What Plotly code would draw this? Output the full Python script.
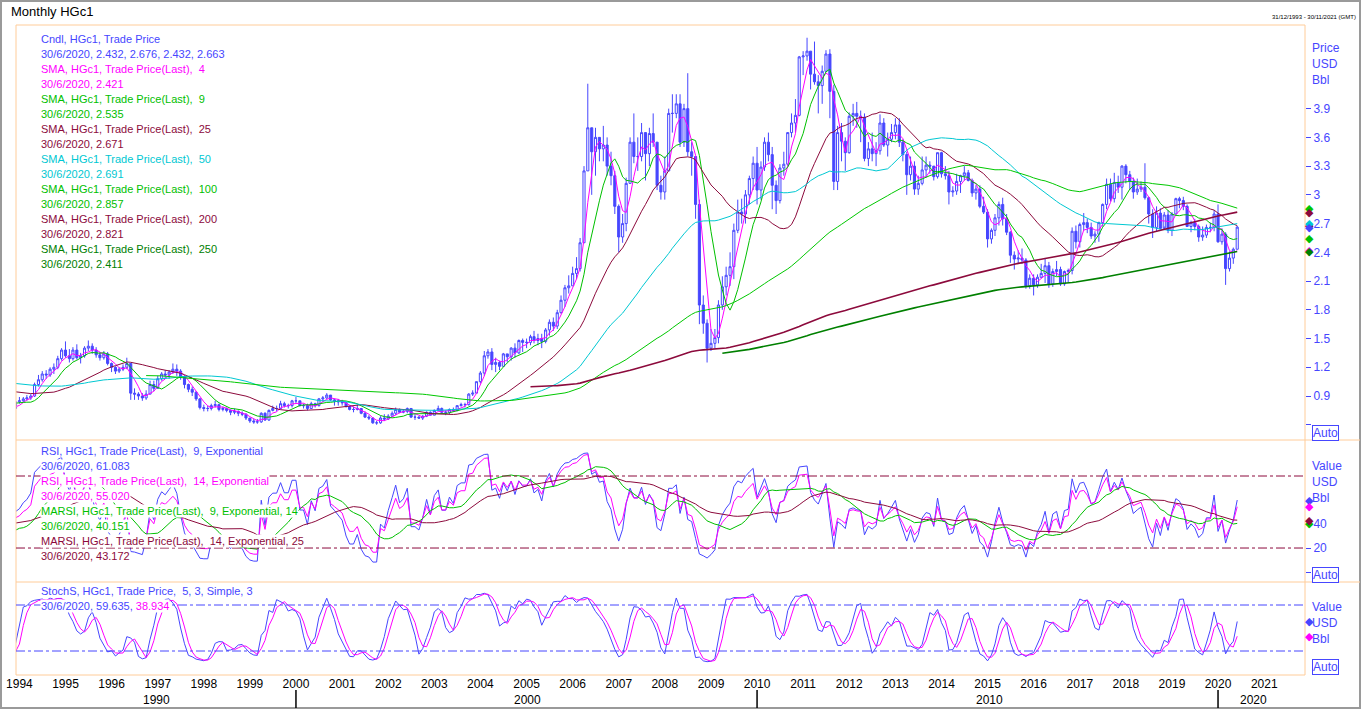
import pandas as pd
import plotly.graph_objects as go

# ---- HGc1 monthly data (USD / lb) ----
first_month = "1988-07-01"

# closes before the visible window, only used to warm up the long averages
pre_close = [
    0.97, 1.05, 1.20, 1.30, 1.45, 1.50,                                   # 1988 Jul-Dec
    1.45, 1.40, 1.35, 1.30, 1.15, 1.12, 1.25, 1.35, 1.30, 1.20, 1.12, 1.07,  # 1989
    1.06, 1.10, 1.25, 1.20, 1.22, 1.15, 1.30, 1.28, 1.30, 1.22, 1.10, 1.08,  # 1990
    1.06, 1.10, 1.08, 1.05, 0.98, 0.98, 1.02, 1.02, 1.07, 1.10, 1.04, 0.98,  # 1991
    0.98, 1.00, 1.00, 0.99, 1.01, 1.08, 1.12, 1.10, 1.04, 0.99, 0.97, 1.03,  # 1992
    1.00, 0.93, 0.95, 0.85, 0.80, 0.86, 0.90, 0.87, 0.79, 0.75, 0.77,        # 1993 Jan-Nov
]

# visible candles Dec 1993 .. Jun 2020 (open = previous close)
close = [
    0.84,
    0.85, 0.87, 0.88, 0.90, 1.02, 1.07, 1.13, 1.12, 1.18, 1.20, 1.29, 1.38,  # 1994
    1.32, 1.29, 1.38, 1.30, 1.32, 1.40, 1.42, 1.38, 1.33, 1.30, 1.34, 1.24,  # 1995
    1.20, 1.16, 1.18, 1.20, 1.24, 0.93, 0.92, 0.90, 0.88, 0.92, 1.02, 0.98,  # 1996
    1.08, 1.13, 1.12, 1.15, 1.18, 1.16, 1.10, 1.02, 0.97, 0.94, 0.87, 0.78,  # 1997
    0.77, 0.77, 0.80, 0.81, 0.76, 0.77, 0.75, 0.73, 0.74, 0.72, 0.71, 0.67,  # 1998
    0.64, 0.63, 0.63, 0.72, 0.65, 0.75, 0.77, 0.77, 0.82, 0.80, 0.80, 0.85,  # 1999
    0.85, 0.80, 0.80, 0.77, 0.82, 0.80, 0.87, 0.88, 0.91, 0.86, 0.85, 0.84,  # 2000
    0.83, 0.79, 0.76, 0.76, 0.77, 0.72, 0.68, 0.67, 0.62, 0.62, 0.67, 0.66,  # 2001
    0.69, 0.72, 0.76, 0.73, 0.74, 0.77, 0.68, 0.68, 0.67, 0.69, 0.73, 0.70,  # 2002
    0.75, 0.77, 0.73, 0.73, 0.76, 0.75, 0.80, 0.81, 0.81, 0.92, 0.93, 1.05,  # 2003
    1.14, 1.32, 1.36, 1.23, 1.25, 1.21, 1.34, 1.31, 1.40, 1.35, 1.48, 1.46,  # 2004
    1.46, 1.52, 1.48, 1.50, 1.47, 1.59, 1.67, 1.63, 1.77, 1.90, 2.03, 2.05,  # 2005
    2.18, 2.23, 2.50, 3.25, 3.70, 3.45, 3.60, 3.48, 3.52, 3.30, 3.20, 2.88,  # 2006
    2.56, 2.70, 3.12, 3.55, 3.40, 3.40, 3.65, 3.43, 3.64, 3.55, 3.10, 3.03,  # 2007
    3.25, 3.85, 3.85, 3.95, 3.55, 3.90, 3.45, 3.40, 2.90, 1.85, 1.66, 1.40,  # 2008
    1.45, 1.51, 1.85, 2.04, 2.16, 2.25, 2.63, 2.82, 2.80, 3.00, 3.17, 3.33,  # 2009
    3.05, 3.29, 3.55, 3.42, 3.10, 2.94, 3.28, 3.32, 3.65, 3.75, 3.83, 4.44,  # 2010
    4.45, 4.50, 4.26, 4.18, 4.14, 4.29, 4.47, 4.08, 3.14, 3.65, 3.56, 3.44,  # 2011
    3.82, 3.85, 3.82, 3.81, 3.38, 3.48, 3.43, 3.46, 3.75, 3.52, 3.58, 3.65,  # 2012
    3.73, 3.55, 3.42, 3.21, 3.30, 3.06, 3.12, 3.26, 3.31, 3.30, 3.19, 3.44,  # 2013
    3.22, 3.20, 3.03, 3.04, 3.14, 3.20, 3.23, 3.15, 3.02, 3.06, 2.88, 2.82,  # 2014
    2.54, 2.63, 2.76, 2.90, 2.75, 2.61, 2.37, 2.33, 2.34, 2.32, 2.05, 2.13,  # 2015
    2.06, 2.14, 2.18, 2.26, 2.07, 2.20, 2.22, 2.07, 2.20, 2.21, 2.62, 2.51,  # 2016
    2.69, 2.71, 2.66, 2.57, 2.59, 2.71, 2.90, 3.11, 2.96, 3.13, 3.08, 3.30,  # 2017
    3.21, 3.14, 3.03, 3.06, 3.08, 2.97, 2.80, 2.66, 2.81, 2.65, 2.79, 2.63,  # 2018
    2.80, 2.96, 2.94, 2.88, 2.67, 2.71, 2.67, 2.56, 2.58, 2.66, 2.66, 2.80,  # 2019
    2.51, 2.59, 2.23, 2.34, 2.432, 2.663,                                    # 2020
]

high = [
    0.86,
    0.89, 0.89, 0.91, 0.92, 1.04, 1.12, 1.16, 1.17, 1.20, 1.24, 1.32, 1.40,
    1.47, 1.39, 1.41, 1.44, 1.35, 1.42, 1.48, 1.45, 1.41, 1.36, 1.37, 1.36,
    1.25, 1.21, 1.20, 1.23, 1.30, 1.24, 0.98, 0.94, 0.93, 0.96, 1.06, 1.06,
    1.11, 1.15, 1.17, 1.17, 1.24, 1.23, 1.18, 1.12, 1.03, 1.00, 0.95, 0.88,
    0.81, 0.80, 0.82, 0.85, 0.82, 0.79, 0.78, 0.76, 0.77, 0.75, 0.74, 0.72,
    0.67, 0.66, 0.66, 0.73, 0.73, 0.76, 0.80, 0.80, 0.85, 0.84, 0.82, 0.86,
    0.89, 0.85, 0.82, 0.82, 0.84, 0.83, 0.88, 0.90, 0.93, 0.91, 0.87, 0.87,
    0.86, 0.83, 0.80, 0.79, 0.81, 0.77, 0.74, 0.70, 0.68, 0.64, 0.69, 0.71,
    0.71, 0.74, 0.78, 0.77, 0.76, 0.78, 0.77, 0.71, 0.69, 0.70, 0.74, 0.74,
    0.76, 0.80, 0.78, 0.75, 0.77, 0.78, 0.80, 0.83, 0.83, 0.93, 0.96, 1.05,
    1.16, 1.37, 1.39, 1.40, 1.30, 1.27, 1.35, 1.34, 1.41, 1.45, 1.49, 1.50,
    1.50, 1.54, 1.58, 1.55, 1.55, 1.61, 1.70, 1.72, 1.80, 1.95, 2.06, 2.16,
    2.25, 2.35, 2.55, 3.30, 4.16, 3.70, 3.70, 3.60, 3.72, 3.60, 3.45, 3.25,
    2.90, 2.80, 3.18, 3.60, 3.85, 3.60, 3.75, 3.60, 3.70, 3.85, 3.55, 3.20,
    3.40, 3.90, 4.05, 4.05, 4.05, 3.95, 4.27, 3.55, 3.40, 2.95, 1.95, 1.70,
    1.60, 1.60, 1.90, 2.15, 2.25, 2.40, 2.70, 2.95, 2.96, 3.05, 3.20, 3.40,
    3.50, 3.35, 3.60, 3.65, 3.50, 3.15, 3.32, 3.45, 3.65, 3.85, 4.00, 4.45,
    4.50, 4.64, 4.50, 4.60, 4.25, 4.35, 4.51, 4.52, 4.15, 3.72, 3.75, 3.60,
    3.86, 3.95, 3.97, 3.88, 3.85, 3.55, 3.65, 3.55, 3.84, 3.80, 3.65, 3.74,
    3.80, 3.80, 3.58, 3.45, 3.40, 3.35, 3.20, 3.40, 3.40, 3.35, 3.30, 3.44,
    3.45, 3.30, 3.25, 3.09, 3.22, 3.21, 3.30, 3.26, 3.17, 3.10, 3.10, 2.98,
    2.85, 2.65, 2.80, 2.93, 2.97, 2.80, 2.62, 2.41, 2.42, 2.44, 2.34, 2.17,
    2.17, 2.17, 2.28, 2.33, 2.30, 2.23, 2.31, 2.25, 2.21, 2.23, 2.66, 2.68,
    2.71, 2.81, 2.75, 2.71, 2.62, 2.72, 2.91, 3.17, 3.17, 3.23, 3.20, 3.31,
    3.32, 3.25, 3.18, 3.17, 3.14, 3.33, 2.98, 2.85, 2.88, 2.86, 2.82, 2.84,
    2.82, 2.97, 2.98, 2.98, 2.90, 2.73, 2.75, 2.69, 2.67, 2.69, 2.71, 2.84,
    2.90, 2.65, 2.61, 2.41, 2.45, 2.676,
]

low = [
    0.76,
    0.82, 0.84, 0.85, 0.86, 0.89, 1.00, 1.05, 1.08, 1.10, 1.13, 1.18, 1.27,
    1.30, 1.25, 1.27, 1.28, 1.24, 1.30, 1.37, 1.34, 1.30, 1.27, 1.28, 1.22,
    1.15, 1.13, 1.14, 1.16, 1.18, 0.86, 0.86, 0.86, 0.85, 0.86, 0.92, 0.95,
    0.98, 1.06, 1.08, 1.08, 1.13, 1.11, 1.07, 0.98, 0.94, 0.90, 0.85, 0.76,
    0.74, 0.74, 0.75, 0.78, 0.74, 0.74, 0.73, 0.70, 0.71, 0.69, 0.69, 0.65,
    0.62, 0.61, 0.61, 0.62, 0.64, 0.64, 0.74, 0.74, 0.76, 0.78, 0.77, 0.78,
    0.82, 0.79, 0.77, 0.75, 0.77, 0.78, 0.79, 0.84, 0.87, 0.85, 0.80, 0.80,
    0.80, 0.78, 0.75, 0.73, 0.75, 0.71, 0.67, 0.65, 0.61, 0.60, 0.61, 0.64,
    0.65, 0.68, 0.70, 0.72, 0.72, 0.72, 0.67, 0.65, 0.66, 0.65, 0.68, 0.70,
    0.70, 0.75, 0.72, 0.70, 0.71, 0.74, 0.74, 0.79, 0.78, 0.80, 0.90, 0.93,
    1.03, 1.11, 1.29, 1.17, 1.15, 1.17, 1.21, 1.25, 1.27, 1.30, 1.34, 1.36,
    1.40, 1.43, 1.45, 1.43, 1.40, 1.45, 1.53, 1.58, 1.60, 1.76, 1.83, 1.97,
    2.05, 2.12, 2.20, 2.50, 3.25, 3.00, 3.20, 3.35, 3.35, 3.20, 3.10, 2.80,
    2.40, 2.50, 2.62, 3.12, 3.33, 3.25, 3.35, 3.15, 3.30, 3.50, 3.05, 2.95,
    2.95, 3.25, 3.65, 3.80, 3.50, 3.50, 3.40, 3.20, 2.75, 1.65, 1.55, 1.25,
    1.37, 1.40, 1.45, 1.80, 1.95, 2.05, 2.12, 2.60, 2.70, 2.70, 2.90, 3.05,
    2.90, 2.95, 3.25, 3.35, 2.85, 2.80, 2.91, 3.20, 3.30, 3.60, 3.65, 3.82,
    4.25, 4.40, 4.10, 4.15, 3.85, 3.95, 4.28, 3.80, 3.05, 3.05, 3.35, 3.25,
    3.43, 3.72, 3.70, 3.55, 3.35, 3.30, 3.35, 3.30, 3.42, 3.50, 3.40, 3.55,
    3.58, 3.50, 3.35, 3.00, 3.15, 3.00, 3.00, 3.10, 3.18, 3.22, 3.15, 3.17,
    3.18, 3.16, 2.90, 2.98, 3.00, 3.02, 3.15, 3.14, 2.98, 2.95, 2.86, 2.80,
    2.45, 2.49, 2.57, 2.68, 2.68, 2.58, 2.29, 2.22, 2.28, 2.28, 2.02, 2.02,
    1.95, 2.03, 2.13, 2.08, 2.03, 2.04, 2.15, 2.05, 2.05, 2.09, 2.17, 2.44,
    2.45, 2.63, 2.60, 2.54, 2.50, 2.51, 2.67, 2.85, 2.93, 2.92, 3.02, 2.95,
    3.12, 3.05, 2.96, 3.00, 3.03, 2.95, 2.70, 2.55, 2.62, 2.64, 2.67, 2.60,
    2.57, 2.80, 2.86, 2.84, 2.67, 2.61, 2.63, 2.51, 2.52, 2.55, 2.61, 2.62,
    2.50, 2.48, 2.06, 2.20, 2.28, 2.432,
]

sma_periods = [4, 9, 25, 50, 100, 200, 250]
sma_colors = ["#ff00ff", "#00c000", "#8c0a3c", "#00c8d2", "#00c800", "#8c0a3c", "#008000"]
sma_widths = [1, 1, 1, 1, 1, 1.6, 1.6]

years = list(range(1994, 2022))
decades = ["1990", "2000", "2010", "2020"]

price_legend = [
    ("Cndl, HGc1, Trade Price", "#4646ff"),
    ("30/6/2020, 2.432, 2.676, 2.432, 2.663", "#4646ff"),
    ("SMA, HGc1, Trade Price(Last), \u00a04", "#ff00ff"),
    ("30/6/2020, 2.421", "#ff00ff"),
    ("SMA, HGc1, Trade Price(Last), \u00a09", "#00c000"),
    ("30/6/2020, 2.535", "#00c000"),
    ("SMA, HGc1, Trade Price(Last), \u00a025", "#8c0a3c"),
    ("30/6/2020, 2.671", "#8c0a3c"),
    ("SMA, HGc1, Trade Price(Last), \u00a050", "#00c8d2"),
    ("30/6/2020, 2.691", "#00c8d2"),
    ("SMA, HGc1, Trade Price(Last), \u00a0100", "#00c000"),
    ("30/6/2020, 2.857", "#00c000"),
    ("SMA, HGc1, Trade Price(Last), \u00a0200", "#8c0a3c"),
    ("30/6/2020, 2.821", "#8c0a3c"),
    ("SMA, HGc1, Trade Price(Last), \u00a0250", "#008000"),
    ("30/6/2020, 2.411", "#008000"),
]
rsi_legend = [
    ("RSI, HGc1, Trade Price(Last), \u00a09, Exponential", "#4646ff"),
    ("30/6/2020, 61.083", "#4646ff"),
    ("RSI, HGc1, Trade Price(Last), \u00a014, Exponential", "#ff00ff"),
    ("30/6/2020, 55.020", "#ff00ff"),
    ("MARSI, HGc1, Trade Price(Last), \u00a09, Exponential, 14", "#00c000"),
    ("30/6/2020, 40.151", "#00c000"),
    ("MARSI, HGc1, Trade Price(Last), \u00a014, Exponential, 25", "#8c0a3c"),
    ("30/6/2020, 43.172", "#8c0a3c"),
]
stoch_legend = [
    ("StochS, HGc1, Trade Price, \u00a05, 3, Simple, 3", "#4646ff"),
    ("30/6/2020, 59.635, <span style='color:#ff00ff'>38.934</span>", "#4646ff"),
]
rsi_levels = [80, 20]
stoch_levels = [80, 20]

BLUE = "#4646ff"
FONT = "Liberation Sans"

# ---- series ----
n_pre = len(pre_close)
dates = pd.date_range(first_month, periods=n_pre + len(close), freq="MS")
c_all = pd.Series(pre_close + close, index=dates)
h_all = pd.Series(pre_close + high, index=dates)
l_all = pd.Series(pre_close + low, index=dates)
vis = dates[n_pre:]
opens = c_all.shift(1)[vis]


def rsi(s, n):
    d = s.diff()
    up = d.clip(lower=0).ewm(span=n, adjust=False).mean()
    dn = (-d.clip(upper=0)).ewm(span=n, adjust=False).mean()
    return 100 - 100 / (1 + up / dn)


rsi9 = rsi(c_all, 9)
rsi14 = rsi(c_all, 14)
marsi9 = rsi9.rolling(14).mean()
marsi14 = rsi14.rolling(25).mean()

lo5 = l_all.rolling(5).min()
hi5 = h_all.rolling(5).max()
fast_k = 100 * (c_all - lo5) / (hi5 - lo5)
slow_k = fast_k.rolling(3).mean()
slow_d = slow_k.rolling(3).mean()

# ---- pixel helpers (plot area is x 16..1305, y 25..675) ----
def px(x):
    return (x - 16) / 1289.0


def py(y):
    return (675 - y) / 650.0


fig = go.Figure()
fig.add_trace(go.Candlestick(
    x=vis, open=opens, high=high, low=low, close=close,
    increasing=dict(line=dict(color=BLUE, width=1), fillcolor="white"),
    decreasing=dict(line=dict(color=BLUE, width=1), fillcolor=BLUE),
    whiskerwidth=0, yaxis="y", hoverinfo="skip",
))

last_marks = []
for n, col, w in zip(sma_periods, sma_colors, sma_widths):
    s = c_all.rolling(n).mean()[vis]
    fig.add_trace(go.Scatter(x=vis, y=s, mode="lines", line=dict(color=col, width=w), yaxis="y"))
    last_marks.append((s.iloc[-1], col, "y"))
last_marks.insert(4, (close[-1], BLUE, "y"))

for s, col in [(rsi9, BLUE), (rsi14, "#ff00ff"), (marsi9, "#00c000"), (marsi14, "#8c0a3c")]:
    fig.add_trace(go.Scatter(x=vis, y=s[vis], mode="lines", line=dict(color=col, width=1), yaxis="y2"))
    last_marks.append((s.iloc[-1], col, "y2"))

for s, col in [(slow_k, BLUE), (slow_d, "#ff00ff")]:
    fig.add_trace(go.Scatter(x=vis, y=s[vis], mode="lines", line=dict(color=col, width=1), yaxis="y3"))
    last_marks.append((s.iloc[-1], col, "y3"))

# ---- shapes ----
ORANGE = "#ffcc99"
shapes = [
    dict(type="rect", xref="paper", yref="paper", x0=px(1), x1=px(1360), y0=py(708), y1=py(1),
         line=dict(color="#9a9a9a", width=2)),
    dict(type="rect", xref="paper", yref="paper", x0=0, x1=1, y0=0, y1=1, line=dict(color=ORANGE, width=1)),
    dict(type="line", xref="paper", yref="paper", x0=0, x1=px(1360), y0=py(440), y1=py(440),
         line=dict(color=ORANGE, width=1)),
    dict(type="line", xref="paper", yref="paper", x0=0, x1=px(1360), y0=py(582), y1=py(582),
         line=dict(color=ORANGE, width=1)),
]
for lv in rsi_levels:
    shapes.append(dict(type="line", xref="paper", yref="y2", x0=0, x1=1, y0=lv, y1=lv,
                       line=dict(color="#8c0a3c", width=1, dash="dashdot")))
for lv in stoch_levels:
    shapes.append(dict(type="line", xref="paper", yref="y3", x0=0, x1=1, y0=lv, y1=lv,
                       line=dict(color=BLUE, width=1, dash="dashdot")))
for d in decades[1:]:
    shapes.append(dict(type="line", xref="x", yref="paper", x0=d + "-01-01", x1=d + "-01-01",
                       y0=py(690), y1=py(708), line=dict(color="black", width=1.5)))

# ---- annotations ----
ann = []


def text(x, y, t, col, size=11, anchor="left", bg="white", **kw):
    ann.append(dict(x=px(x), y=py(y), xref="paper", yref="paper", text=t, showarrow=False,
                    xanchor=anchor, yanchor="middle", bgcolor=bg, borderpad=0,
                    font=dict(family=FONT, size=size, color=col), **kw))


for i, (t, c) in enumerate(price_legend):
    text(40, 39 + 15 * i, t, c)
for i, (t, c) in enumerate(rsi_legend):
    text(40, 451 + 15 * i, t, c)
for i, (t, c) in enumerate(stoch_legend):
    text(40, 591 + 15 * i, t, c)

for i, t in enumerate(["Price", "USD", "Bbl"]):
    text(1311, 48 + 16 * i, t, BLUE, size=12, bg="rgba(0,0,0,0)")
for i, t in enumerate(["Value", "USD", "Bbl"]):
    text(1311, 466 + 16 * i, t, BLUE, size=12, bg="rgba(0,0,0,0)")
    text(1311, 607 + 16 * i, t, BLUE, size=12, bg="rgba(0,0,0,0)")
for y in [433, 575, 667]:
    text(1312, y, "Auto", BLUE, size=12, bordercolor=BLUE, borderwidth=1)

# last-value diamonds on the right edge
for val, col, ax in last_marks:
    ann.append(dict(x=px(1309), y=val, xref="paper", yref=ax, text="\u25c6", showarrow=False,
                    xanchor="center", yanchor="middle",
                    font=dict(family="DejaVu Sans", size=11, color=col)))

text(10, 12, "Monthly HGc1", "black", size=13, bg="rgba(0,0,0,0)")
text(1357, 17, "31/12/1993 - 30/11/2021 (GMT)", "black", size=6, anchor="right", bg="rgba(0,0,0,0)")
for d, x in zip(decades, [156, 527, 989, 1253]):
    text(x, 700, d, "black", size=12, anchor="center", bg="rgba(0,0,0,0)")

axis_common = dict(side="right", anchor="x", showgrid=False, zeroline=False, showline=False,
                   ticks="outside", ticklen=5, tickcolor=BLUE, automargin=False,
                   tickfont=dict(family=FONT, size=12, color=BLUE))
price_ticks = [0.6, 0.9, 1.2, 1.5, 1.8, 2.1, 2.4, 2.7, 3.0, 3.3, 3.6, 3.9]

fig.update_layout(
    width=1362, height=710,
    margin=dict(l=16, r=57, t=25, b=35, autoexpand=False),
    paper_bgcolor="white", plot_bgcolor="white",
    showlegend=False, hovermode=False, boxgap=0.15,
    xaxis=dict(type="date", range=["1993-12-05", "2021-11-20"], anchor="y3", automargin=False,
               rangeslider=dict(visible=False), showgrid=False, zeroline=False, showline=False,
               ticks="", tickvals=[f"{y}-01-01" for y in years], ticktext=[str(y) for y in years],
               tickfont=dict(family=FONT, size=12, color="black")),
    yaxis=dict(domain=[py(440), 1], range=[0.441, 4.773], tickvals=price_ticks,
               ticktext=[""] + [f"{v:g}" for v in price_ticks[1:]], **axis_common),
    yaxis2=dict(domain=[py(582), py(440)], range=[-8.3, 110], tickvals=[0, 20, 40],
                ticktext=["", "20", "40"], **axis_common),
    yaxis3=dict(domain=[0, py(582)], range=[-11.3, 110], tickvals=[], **axis_common),
    shapes=shapes,
    annotations=ann,
)

# the page's default body margin would push the figure 8px off; drop it
fig.write_html("out.html", config={"displayModeBar": False},
               post_script="document.body.style.margin='0';document.body.style.overflow='hidden';")
